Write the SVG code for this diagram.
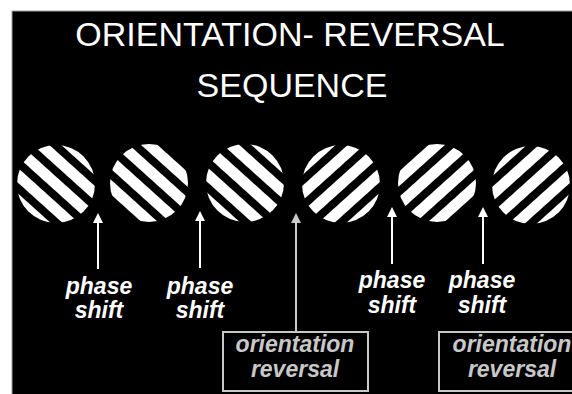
<svg xmlns="http://www.w3.org/2000/svg" width="572" height="394" viewBox="0 0 572 394">
  <style>
    .title { font-family: "Liberation Sans", Arial, sans-serif; font-size: 34px; fill: #ffffff; text-anchor: middle; }
    .label { font-family: "Liberation Sans", Arial, sans-serif; font-size: 23px; font-weight: bold; font-style: italic; text-anchor: middle; }
    .phase { fill: #ffffff; }
    .orient { fill: #c8c8c8; }
    .box { fill: none; stroke: #c8c8c8; stroke-width: 2; }
    .arrow-white { stroke: #ffffff; stroke-width: 2; marker-end: url(#head-white); }
    .arrow-gray { stroke: #c8c8c8; stroke-width: 2; marker-end: url(#head-gray); }
  </style>
  <defs>
    <marker id="head-white" viewBox="0 0 10 10" markerWidth="10" markerHeight="10" markerUnits="userSpaceOnUse" refX="2" refY="5" orient="auto">
      <path d="M0,0 L10,5 L0,10 z" fill="#ffffff"/>
    </marker>
    <marker id="head-gray" viewBox="0 0 10 10" markerWidth="10" markerHeight="10" markerUnits="userSpaceOnUse" refX="2" refY="5" orient="auto">
      <path d="M0,0 L10,5 L0,10 z" fill="#c8c8c8"/>
    </marker>
    <!-- square-wave gratings, origin at each disc centre -->
    <pattern id="grating-1" patternUnits="userSpaceOnUse" width="19" height="19" patternTransform="rotate(42) translate(0,-5.5)">
      <rect width="19" height="11" fill="#ffffff"/>
    </pattern>
    <pattern id="grating-2" patternUnits="userSpaceOnUse" width="19" height="19" patternTransform="rotate(42) translate(0,4)">
      <rect width="19" height="11" fill="#ffffff"/>
    </pattern>
    <pattern id="grating-3" patternUnits="userSpaceOnUse" width="19" height="19" patternTransform="rotate(42) translate(0,-5.5)">
      <rect width="19" height="11" fill="#ffffff"/>
    </pattern>
    <pattern id="grating-4" patternUnits="userSpaceOnUse" width="19" height="19" patternTransform="rotate(-42) translate(0,-5.5)">
      <rect width="19" height="11" fill="#ffffff"/>
    </pattern>
    <pattern id="grating-5" patternUnits="userSpaceOnUse" width="19" height="19" patternTransform="rotate(-42) translate(0,4)">
      <rect width="19" height="11" fill="#ffffff"/>
    </pattern>
    <pattern id="grating-6" patternUnits="userSpaceOnUse" width="19" height="19" patternTransform="rotate(-42) translate(0,-5.5)">
      <rect width="19" height="11" fill="#ffffff"/>
    </pattern>
  </defs>

  <!-- background panel -->
  <rect x="0" y="0" width="572" height="394" fill="#ffffff"/>
  <rect x="12" y="11" width="561" height="384" fill="#000000" stroke="#a0a0a0" stroke-width="1"/>

  <g id="title">
    <text class="title" x="290" y="46">ORIENTATION- REVERSAL</text>
    <text class="title" x="292" y="97">SEQUENCE</text>
  </g>

  <g id="disc-1" transform="translate(56,184)"><circle r="39" fill="url(#grating-1)"/></g>
  <g id="disc-2" transform="translate(149,183)"><circle r="39" fill="url(#grating-2)"/></g>
  <g id="disc-3" transform="translate(245,183)"><circle r="39" fill="url(#grating-3)"/></g>
  <g id="disc-4" transform="translate(341,184)"><circle r="39" fill="url(#grating-4)"/></g>
  <g id="disc-5" transform="translate(437,183)"><circle r="39" fill="url(#grating-5)"/></g>
  <g id="disc-6" transform="translate(531,185)"><circle r="39" fill="url(#grating-6)"/></g>

  <g id="connectors">
    <line class="arrow-white" x1="98" y1="269" x2="98" y2="221"/>
    <line class="arrow-white" x1="200" y1="268" x2="200" y2="219"/>
    <line class="arrow-gray" x1="296" y1="332" x2="296" y2="221"/>
    <line class="arrow-white" x1="392" y1="264" x2="392" y2="215"/>
    <line class="arrow-white" x1="483" y1="264" x2="483" y2="215"/>
    <line class="arrow-gray" x1="577" y1="332" x2="577" y2="223"/>
  </g>

  <g id="label-phase-1">
    <text class="label phase" x="99" y="294">phase</text>
    <text class="label phase" x="99" y="318">shift</text>
  </g>
  <g id="label-phase-2">
    <text class="label phase" x="200" y="294">phase</text>
    <text class="label phase" x="200" y="318">shift</text>
  </g>
  <g id="label-phase-3">
    <text class="label phase" x="392" y="288">phase</text>
    <text class="label phase" x="392" y="313">shift</text>
  </g>
  <g id="label-phase-4">
    <text class="label phase" x="482" y="288">phase</text>
    <text class="label phase" x="482" y="313">shift</text>
  </g>

  <g id="box-reversal-1">
    <rect class="box" x="223" y="332" width="145" height="59"/>
    <text class="label orient" x="295" y="352">orientation</text>
    <text class="label orient" x="295" y="377">reversal</text>
  </g>
  <g id="box-reversal-2">
    <rect class="box" x="439" y="332" width="145" height="59"/>
    <text class="label orient" x="512" y="352">orientation</text>
    <text class="label orient" x="512" y="377">reversal</text>
  </g>
</svg>
